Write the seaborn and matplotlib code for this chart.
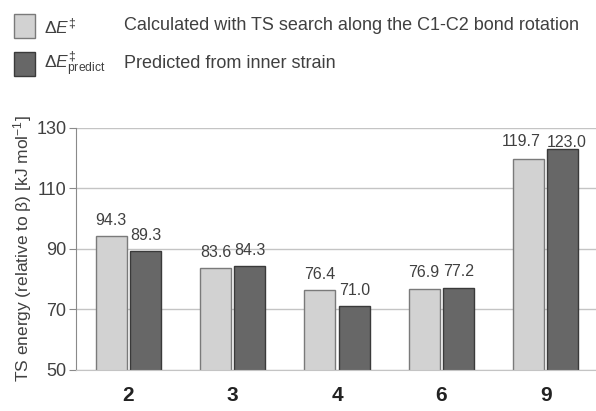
import pandas as pd
import matplotlib
matplotlib.use("Agg")
import matplotlib.pyplot as plt
import seaborn as sns
from matplotlib.patches import Rectangle

# data
compounds = ["2", "3", "4", "6", "9"]
calc_vals = [94.3, 83.6, 76.4, 76.9, 119.7]
pred_vals = [89.3, 84.3, 71.0, 77.2, 123.0]
series = ["calc", "pred"]

df = pd.DataFrame({
    "compound": compounds * 2,
    "energy": calc_vals + pred_vals,
    "kind": [series[0]] * len(compounds) + [series[1]] * len(compounds),
})

sns.set_style("white")
plt.rcParams["font.family"] = ["Liberation Sans", "DejaVu Sans"]
plt.rcParams["mathtext.fontset"] = "custom"
plt.rcParams["mathtext.rm"] = "Liberation Sans"
plt.rcParams["mathtext.it"] = "Liberation Sans:italic"

light, dark = "#d2d2d2", "#676767"
grid_c = "#c4c4c4"
txt_c = "#404040"

fig = plt.figure(figsize=(5.96, 4.11), dpi=100)
ax = fig.add_axes([0.128, 0.1, 0.875, 0.589])

sns.barplot(data=df, x="compound", y="energy", hue="kind", palette=[light, dark],
            width=0.66, gap=0.1, ax=ax, legend=False)

edges = ["#7a7a7a", "#3a3a3a"]
all_labs = []
for cont, ec in zip(ax.containers, edges):
    for b in cont:
        b.set_edgecolor(ec)
        b.set_linewidth(1.0)
    all_labs.append(ax.bar_label(cont, fmt="%.1f", padding=6, fontsize=11.5, color=txt_c))
# pair over compound 9 is nudged apart, the tall one sits under the top gridline
all_labs[0][-1].xyann = (-5, 7)
all_labs[1][-1].xyann = (3, -1)

ax.set_ylim(50, 130)
ax.set_yticks([50, 70, 90, 110, 130])
ax.yaxis.grid(True, color=grid_c, lw=1)
ax.set_axisbelow(True)
for s in ["top", "right"]:
    ax.spines[s].set_visible(False)
ax.spines["bottom"].set_color(grid_c)
ax.spines["left"].set_color("#8a8a8a")
ax.tick_params(axis="y", left=True, length=5, color="#8a8a8a", labelsize=13, labelcolor=txt_c, pad=2)
ax.tick_params(axis="x", bottom=False, pad=8)
for t in ax.get_xticklabels():
    t.set_fontsize(15)
    t.set_fontweight("bold")
    t.set_color("#222222")
ax.set_xlabel("")
ax.set_ylabel(r"TS energy (relative to β) [kJ mol$^{-1}$]", fontsize=12.5, color=txt_c, labelpad=2)

# legend drawn at the top
fig.patches.append(Rectangle((14 / 596, 1 - 38 / 411), 21 / 596, 24 / 411, transform=fig.transFigure,
                             facecolor=light, edgecolor="#7a7a7a", lw=1))
fig.patches.append(Rectangle((14 / 596, 1 - 76 / 411), 21 / 596, 24 / 411, transform=fig.transFigure,
                             facecolor=dark, edgecolor="#3a3a3a", lw=1))
fig.text(44 / 596, 1 - 26 / 411, r"$\Delta E^{\ddagger}$", fontsize=12.5, va="center", color=txt_c)
fig.text(44 / 596, 1 - 64 / 411, r"$\Delta E^{\ddagger}_{\mathrm{predict}}$", fontsize=12.5, va="center", color=txt_c)
fig.text(124 / 596, 1 - 26 / 411, "Calculated with TS search along the C1-C2 bond rotation",
         fontsize=13, va="center", color=txt_c)
fig.text(124 / 596, 1 - 64 / 411, "Predicted from inner strain", fontsize=13, va="center", color=txt_c)

fig.savefig("out.png", dpi=100)
